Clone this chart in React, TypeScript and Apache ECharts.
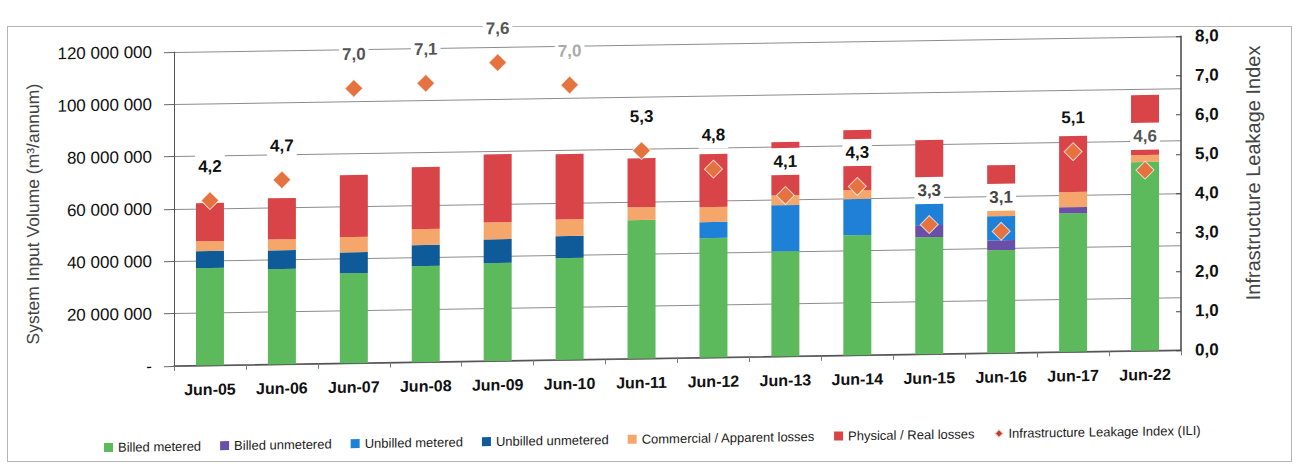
import React, { useEffect, useRef } from "react";
import * as echarts from "echarts";

// values in million m³/annum
const categories = ["Jun-05", "Jun-06", "Jun-07", "Jun-08", "Jun-09", "Jun-10", "Jun-11", "Jun-12", "Jun-13", "Jun-14", "Jun-15", "Jun-16", "Jun-17", "Jun-22"];
const billedMetered = [37.2, 36.4, 34.4, 36.7, 37.4, 38.9, 53.0, 45.7, 40.2, 45.9, 44.7, 39.3, 53.0, 72.1];
const billedUnmetered = [0, 0, 0, 0, 0, 0, 0, 0, 0, 0, 4.6, 3.8, 2.3, 0];
const unbilledMetered = [0, 0, 0, 0, 0, 0, 0, 6.1, 17.6, 13.8, 8.4, 9.2, 0, 0];
const unbilledUnmetered = [6.5, 7.2, 8.0, 8.0, 9.1, 8.4, 0, 0, 0, 0, 0, 0, 0, 0];
const commercialLosses = [3.8, 4.2, 5.8, 6.1, 6.5, 6.4, 4.9, 5.7, 3.8, 3.4, 4.5, 4.5, 5.8, 2.7];
const physicalLosses = [14.6, 15.7, 23.7, 23.7, 26.0, 24.9, 18.7, 20.3, 20.3, 23.0, 19.6, 15.0, 21.4, 22.9];
const ili = [4.2, 4.7, 7.0, 7.1, 7.6, 7.0, 5.3, 4.8, 4.1, 4.3, 3.3, 3.1, 5.1, 4.6];

const leftTicks = { min: 0, max: 120, interval: 20 };
const rightTicks = { min: 0, max: 8, interval: 1 };

const FONT = "'Liberation Sans', Arial, sans-serif";
// label tint per point (style only)
const iliLabelTint = ["#111", "#111", "#555", "#555", "#555", "#aaa", "#111", "#111", "#111", "#111", "#444", "#444", "#111", "#555"];

export default function App() {
  const ref = useRef<HTMLDivElement>(null);
  useEffect(() => {
    if (!ref.current) return;
    const chart = echarts.init(ref.current, undefined, { renderer: "svg" });
    const fmtBig = (v: number) =>
      v === 0 ? "-" : String(Math.round(v * 1e6)).replace(/\B(?=(\d{3})+(?!\d))/g, " ");
    const fmtIli = (v: number) => v.toFixed(1).replace(".", ",");
    const barSeries = (name: string, data: number[], color: string) => ({
      name,
      type: "bar",
      stack: "vol",
      barWidth: 28,
      data,
      itemStyle: { color },
      z: 2,
    });
    chart.setOption({
      animation: false,
      grid: { left: 174, right: 116, top: 52, bottom: 108 },
      legend: {
        left: 99,
        top: 435,
        itemWidth: 9,
        itemHeight: 9,
        itemGap: 19,
        textStyle: { fontSize: 13, color: "#222", fontFamily: FONT },
        data: [
          { name: "Billed metered", icon: "rect" },
          { name: "Billed unmetered", icon: "rect" },
          { name: "Unbilled metered", icon: "rect" },
          { name: "Unbilled unmetered", icon: "rect" },
          { name: "Commercial / Apparent losses", icon: "rect" },
          { name: "Physical / Real losses", icon: "rect" },
          { name: "Infrastructure Leakage Index (ILI)", icon: "diamond", itemStyle: { color: "#c43a2b", opacity: 1 } },
        ],
      },
      xAxis: {
        type: "category",
        data: categories,
        axisLine: { lineStyle: { color: "#555", width: 1.5 } },
        axisTick: { show: true, length: 5, lineStyle: { color: "#777" } },
        axisLabel: { fontSize: 16, fontWeight: "bold", color: "#111", margin: 16, fontFamily: FONT },
      },
      yAxis: [
        {
          type: "value",
          min: leftTicks.min,
          max: leftTicks.max,
          interval: leftTicks.interval,
          axisLine: { show: true, lineStyle: { color: "#555" } },
          axisTick: { show: true, length: 10, lineStyle: { color: "#666" } },
          splitLine: { show: true, lineStyle: { color: "#8c8c8c", width: 1 } },
          axisLabel: { formatter: fmtBig, fontSize: 17, color: "#111", margin: 22, fontFamily: FONT },
        },
        {
          type: "value",
          min: rightTicks.min,
          max: rightTicks.max,
          interval: rightTicks.interval,
          position: "right",
          axisLine: { show: true, lineStyle: { color: "#444", width: 1.5 } },
          axisTick: { show: true, inside: true, length: 5, lineStyle: { color: "#444" } },
          splitLine: { show: false },
          axisLabel: { formatter: fmtIli, fontSize: 17, fontWeight: "bold", color: "#111", margin: 14, fontFamily: FONT },
        },
      ],
      graphic: [
        {
          type: "text",
          x: 33,
          y: 212,
          rotation: Math.PI / 2,
          style: {
            text: "System Input Volume (m³/annum)",
            fontSize: 17.5,
            fill: "#444",
            fontFamily: FONT,
            textAlign: "center",
            textVerticalAlign: "middle",
          },
        },
        {
          type: "text",
          x: 1253,
          y: 190,
          rotation: Math.PI / 2,
          style: {
            text: "Infrastructure Leakage Index",
            fontSize: 20,
            fill: "#444",
            fontFamily: FONT,
            textAlign: "center",
            textVerticalAlign: "middle",
          },
        },
      ],
      series: [
        barSeries("Billed metered", billedMetered, "#5cba5c"),
        barSeries("Billed unmetered", billedUnmetered, "#6a4fa8"),
        barSeries("Unbilled metered", unbilledMetered, "#1f80d8"),
        barSeries("Unbilled unmetered", unbilledUnmetered, "#0f5a98"),
        barSeries("Commercial / Apparent losses", commercialLosses, "#f5a66b"),
        barSeries("Physical / Real losses", physicalLosses, "#d94448"),
        {
          name: "Infrastructure Leakage Index (ILI)",
          type: "scatter",
          yAxisIndex: 1,
          symbol: "diamond",
          symbolSize: 18,
          z: 10,
          itemStyle: { color: "#e5733f", opacity: 1, borderColor: "rgba(255,255,255,0.7)", borderWidth: 1 },
          data: ili.map((v, i) => ({ value: v, label: { color: iliLabelTint[i] } })),
          label: {
            show: true,
            position: "top",
            distance: 11,
            formatter: (p: any) => fmtIli(p.value),
            fontSize: 17,
            fontWeight: "bold",
            fontFamily: FONT,
            backgroundColor: "#ffffff",
            padding: [5, 3, 5, 3],
          },
        },
      ],
    });
    return () => chart.dispose();
  }, []);
  return (
    <div style={{ position: "fixed", left: 0, top: 0, width: 1297, height: 474, background: "#fff" }}>
      <div
        style={{
          position: "absolute",
          left: 7,
          top: 26,
          width: 1285,
          height: 436,
          border: "1px solid #b5b5b5",
          boxSizing: "border-box",
        }}
      />
      <div
        ref={ref}
        style={{
          position: "absolute",
          left: 0,
          top: 0,
          width: 1297,
          height: 474,
          transform: "skewY(-0.9deg)",
          transformOrigin: "172px 0px",
        }}
      />
    </div>
  );
}
